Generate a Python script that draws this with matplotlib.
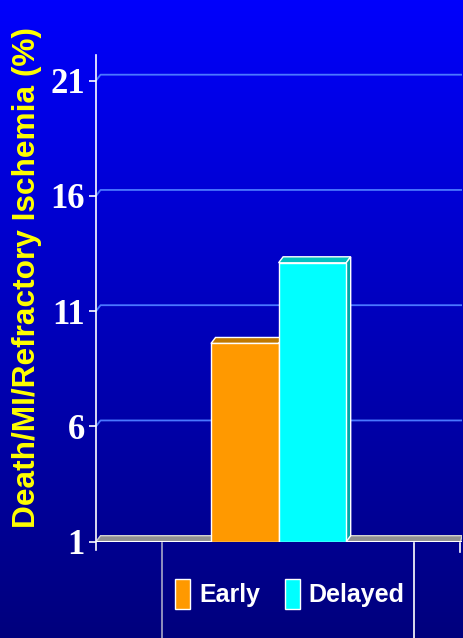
'''
Early vs delayed - death/MI/refractory ischemia
'''
import numpy as np
import matplotlib
matplotlib.use('Agg')
import matplotlib.pyplot as plt
from matplotlib.patches import Polygon, Patch
from matplotlib.lines import Line2D

groups = ['Early', 'Delayed']
values = [9.6, 13.1]
colors = ['#FF9900', '#00FFFF']
tops = ['#C07800', '#00C0C0']
sides = ['#B06800', '#00A8A8']
yticks = [1, 6, 11, 16, 21]

W, H = 464, 638
fig = plt.figure(figsize=(W / 100, H / 100), dpi=100)

# gradient background over the whole figure
bg = fig.add_axes([0, 0, 1, 1], zorder=-1)
grad = np.linspace(0, 1, 256).reshape(-1, 1)
top_c = np.array([0, 0, 252]) / 255
bot_c = np.array([0, 0, 125]) / 255
img = top_c + (bot_c - top_c) * grad[:, :, None]
bg.imshow(img, aspect='auto', extent=[0, 1, 0, 1])
bg.axis('off')

# axes placement in pixels
x0, x1 = 96, 462
y_base, y_top = 541.7, 55
ax = fig.add_axes([x0 / W, 1 - y_base / H, (x1 - x0) / W, (y_base - y_top) / H])
ax.patch.set_alpha(0)

bw = 1.0
px_per_bar = 67.6
xmin = -0.5 - (211 - x0) / px_per_bar
xmax = xmin + (x1 - x0) / px_per_bar
ymin = 1
ymax = 21 + (80.7 - y_top) / 23.05
ax.set_xlim(xmin, xmax)
ax.set_ylim(ymin, ymax)

dx = 4.5 / px_per_bar
dy = 6 / 23.05

# gridlines on the back wall
for t in yticks[1:]:
    ax.plot([xmin, xmin + dx, xmax], [t, t + dy, t + dy], color='#4A78FF', lw=1.3, zorder=1)

# floor slab
ax.add_patch(Polygon([(xmin, 1), (xmin + dx, 1 + dy), (xmax, 1 + dy), (xmax - dx * 0.3, 1)],
                     closed=True, facecolor='#909090', edgecolor='#D0D0D0', lw=1, zorder=2))
ax.plot([xmin, xmax], [1, 1], color='white', lw=1.5, zorder=3)

# 3D bars
xs = np.arange(len(groups))
for i in range(len(groups)):
    x, v = xs[i], values[i]
    ax.bar(x, v - 1, bottom=1, width=bw, color=colors[i], edgecolor='white', lw=1, zorder=5)
    l, r = x - bw / 2, x + bw / 2
    ax.add_patch(Polygon([(l, v), (l + dx, v + dy), (r + dx, v + dy), (r, v)],
                         closed=True, facecolor=tops[i], edgecolor='white', lw=1, zorder=4))
    ax.add_patch(Polygon([(r, 1), (r + dx, 1 + dy), (r + dx, v + dy), (r, v)],
                         closed=True, facecolor=sides[i], edgecolor='white', lw=1, zorder=4))

for s in ['top', 'right', 'bottom']:
    ax.spines[s].set_visible(False)
ax.spines['left'].set_color('white')
ax.spines['left'].set_linewidth(1.2)
ax.spines['left'].set_bounds(1 - 8 / 23.05, ymax)
ax.set_yticks(yticks)
ax.set_yticklabels([str(t) for t in yticks], family='Liberation Serif',
                   fontweight='bold', fontsize=25, color='white')
ax.tick_params(axis='y', colors='white', length=5, width=1.2, pad=3)
ax.set_xticks([])

fig.text(27 / W, 1 - 278 / H, 'Death/MI/Refractory Ischemia (%)', rotation=90,
         ha='center', va='center', color='#FFFF00', fontsize=22.8,
         fontweight='bold', family='Liberation Sans')

# legend box edges
fig.add_artist(Line2D([162 / W, 162 / W], [0, 1 - 543 / H], color='#A8A8C8', lw=1.2))
fig.add_artist(Line2D([414 / W, 414 / W], [0, 1 - 543 / H], color='white', lw=1.2))
fig.add_artist(Line2D([460 / W, 460 / W], [1 - 552 / H, 1 - 543 / H], color='white', lw=1.2))

handles = [Patch(facecolor=colors[i], edgecolor='white', lw=1) for i in range(len(groups))]
leg = fig.legend(handles, groups, loc='center', bbox_to_anchor=(290 / W, 1 - 594 / H),
                 ncol=2, frameon=False, handlelength=0.6, handleheight=1.5,
                 handletextpad=0.35, columnspacing=1.0,
                 prop={'family': 'Liberation Sans', 'weight': 'bold', 'size': 18})
for t in leg.get_texts():
    t.set_color('white')

fig.savefig('out.png', dpi=100)
